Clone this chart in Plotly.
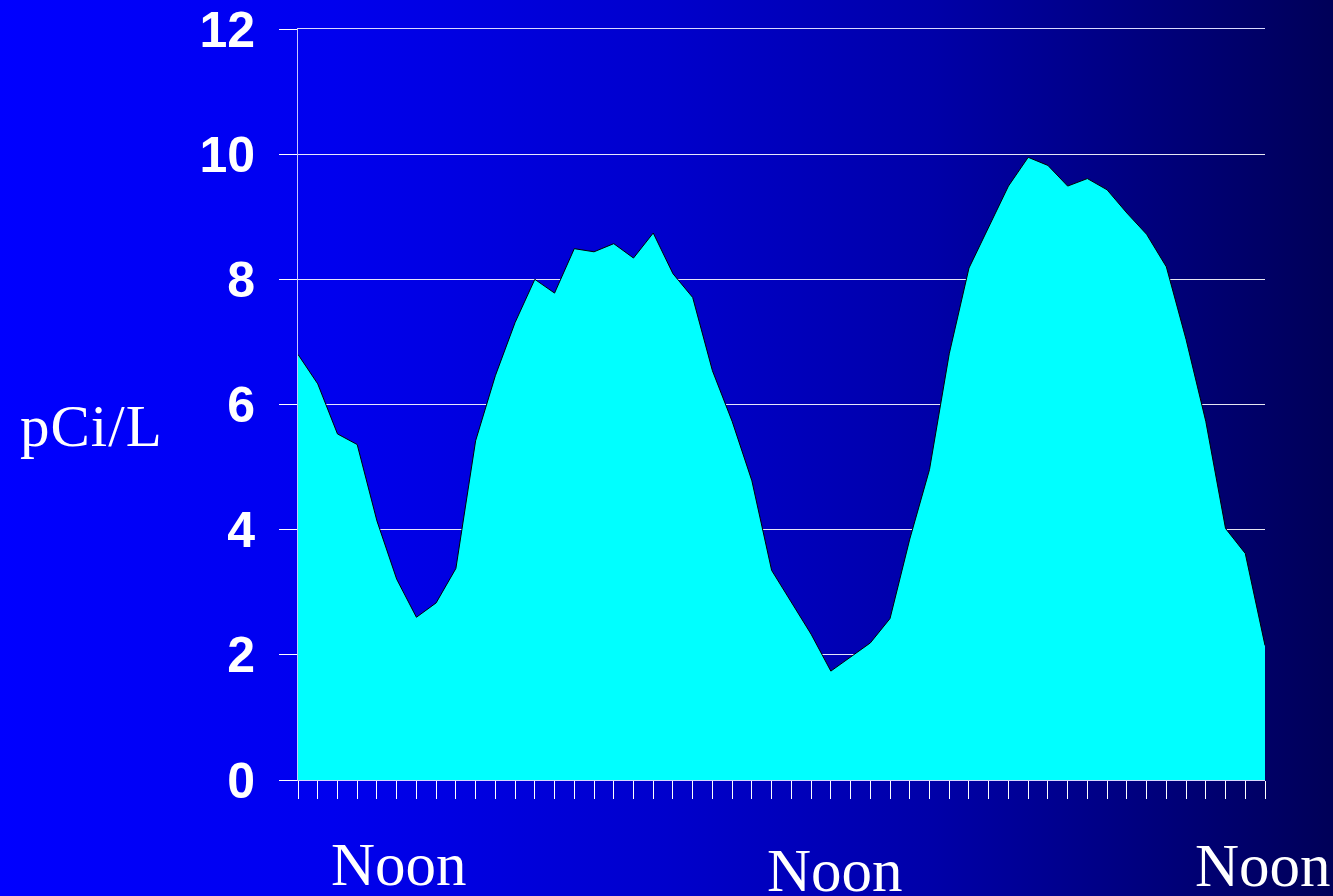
import base64
import plotly.graph_objects as go

# ---- data ----
categories = list(range(50))
radon_pci_l = [6.80, 6.33, 5.53, 5.36, 4.14, 3.21, 2.60, 2.83, 3.38, 5.42,
               6.46, 7.31, 8.00, 7.78, 8.49, 8.44, 8.57, 8.34, 8.74, 8.09,
               7.71, 6.54, 5.73, 4.78, 3.35, 2.84, 2.33, 1.74, 1.97, 2.19,
               2.58, 3.85, 4.96, 6.81, 8.18, 8.83, 9.49, 9.95, 9.82, 9.49,
               9.61, 9.43, 9.06, 8.72, 8.20, 7.04, 5.73, 4.02, 3.62, 2.15]
y_ticks = [0, 2, 4, 6, 8, 10, 12]
noon_labels = ["Noon", "Noon", "Noon"]
noon_categories = [5.1, 27.2, 48.9]
y_title = "pCi/L"

W, H = 1333, 896
L, R, T, B = 298, 68, 29, 116
pw, ph = W - L - R, H - T - B

# gradient background as svg image
svg = (f'<svg xmlns="http://www.w3.org/2000/svg" width="{W}" height="{H}" '
       f'viewBox="0 0 {W} {H}" preserveAspectRatio="none">'
       '<defs><linearGradient id="g" x1="0" y1="0" x2="1" y2="0">'
       '<stop offset="0" stop-color="#0000FF"/>'
       '<stop offset="0.25" stop-color="#0000EE"/>'
       '<stop offset="0.5" stop-color="#0000CC"/>'
       '<stop offset="0.7" stop-color="#0000A8"/>'
       '<stop offset="0.85" stop-color="#000080"/>'
       '<stop offset="1" stop-color="#000058"/>'
       '</linearGradient></defs>'
       f'<rect x="0" y="0" width="{W}" height="{H}" fill="url(#g)"/></svg>')
src = "data:image/svg+xml;base64," + base64.b64encode(svg.encode()).decode()

fig = go.Figure()
fig.add_trace(go.Scatter(
    x=categories, y=radon_pci_l, mode="lines", fill="tozeroy",
    fillcolor="#00FFFF", line=dict(color="#000000", width=1),
    hoverinfo="skip", showlegend=False))

fig.add_layout_image(dict(
    source=src, xref="paper", yref="paper",
    x=-L / pw, y=1 + T / ph, sizex=W / pw, sizey=H / ph,
    xanchor="left", yanchor="top", sizing="stretch", layer="below"))

annotations = []
noon_y_px = [864, 870, 865]
for lab, c, py in zip(noon_labels, noon_categories, noon_y_px):
    annotations.append(dict(
        text=lab, x=c, xref="x", y=(H - B - py) / ph, yref="paper",
        xanchor="center", yanchor="middle", showarrow=False,
        font=dict(family="Liberation Serif, Times New Roman, serif", size=61, color="white")))
annotations.append(dict(
    text=f'<span style="letter-spacing:1px">{y_title}</span>',
    x=-(L - 18) / pw, xref="paper", y=(H - B - 426) / ph, yref="paper",
    xanchor="left", yanchor="middle", showarrow=False,
    font=dict(family="Liberation Serif, Times New Roman, serif", size=59, color="white")))

fig.update_layout(
    width=W, height=H,
    margin=dict(l=L, r=R, t=T, b=B, pad=0, autoexpand=False),
    paper_bgcolor="#0000C0", plot_bgcolor="rgba(0,0,0,0)",
    annotations=annotations,
    xaxis=dict(range=[0, 49], tickvals=categories, showticklabels=False,
               ticks="outside", ticklen=18, tickwidth=1, tickcolor="white",
               showgrid=False, zeroline=False, showline=True, mirror=True,
               automargin=False, linecolor="#D8D8FF", linewidth=1,
               layer="above traces"),
    yaxis=dict(range=[0, 12], tickvals=y_ticks, ticks="outside", ticklen=18,
               tickwidth=1, tickcolor="white", showgrid=True, automargin=False,
               gridcolor="rgba(255,255,255,0.9)", gridwidth=1,
               zeroline=False, showline=True, linecolor="#C8C8FF", linewidth=1,
               ticklabelstandoff=14,
               tickfont=dict(family="Liberation Sans, Arial, sans-serif", size=50,
                             color="white", weight="bold")),
)

fig.write_html("out.html", config={"displayModeBar": False, "staticPlot": True},
               post_script="document.body.style.margin='0';document.body.style.overflow='hidden';")
